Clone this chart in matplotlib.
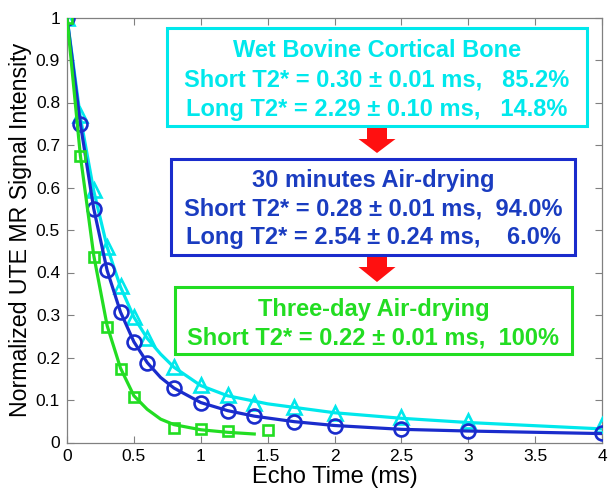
import matplotlib
matplotlib.use("Agg")
import matplotlib.pyplot as plt
from matplotlib.patches import Rectangle, Polygon

plt.rcParams['font.family'] = ['Liberation Sans', 'DejaVu Sans']

# ---- data ----
t_wet = [0, 0.1, 0.2, 0.3, 0.4, 0.5, 0.6, 0.8, 1.0, 1.2, 1.4, 1.7, 2.0, 2.5, 3.0, 4.0]
s_wet = [1.0, 0.77, 0.595, 0.46, 0.368, 0.296, 0.246, 0.178, 0.135, 0.112, 0.094, 0.083, 0.070, 0.060, 0.051, 0.041]
t_30m = [0, 0.1, 0.2, 0.3, 0.4, 0.5, 0.6, 0.8, 1.0, 1.2, 1.4, 1.7, 2.0, 2.5, 3.0, 4.0]
s_30m = [1.0, 0.75, 0.549, 0.406, 0.308, 0.237, 0.188, 0.128, 0.094, 0.075, 0.063, 0.048, 0.039, 0.031, 0.027, 0.022]
t_3d = [0, 0.1, 0.2, 0.3, 0.4, 0.5, 0.8, 1.0, 1.2, 1.5]
s_3d = [1.0, 0.674, 0.437, 0.272, 0.173, 0.107, 0.034, 0.031, 0.027, 0.029]

# fitted curves
ft_wet = [0, 0.1, 0.2, 0.3, 0.4, 0.5, 0.6, 0.7, 0.8, 1.0, 1.2, 1.5, 2.0, 2.5, 3.0, 4.0]
fs_wet = [1.0, 0.765, 0.592, 0.46, 0.366, 0.295, 0.245, 0.208, 0.177, 0.134, 0.110, 0.091, 0.070, 0.057, 0.047, 0.032]
ft_30m = [0, 0.1, 0.2, 0.3, 0.4, 0.5, 0.6, 0.7, 0.8, 1.0, 1.2, 1.4, 1.7, 2.0, 2.5, 3.0, 4.0]
fs_30m = [1.0, 0.75, 0.55, 0.405, 0.307, 0.237, 0.188, 0.153, 0.128, 0.094, 0.075, 0.062, 0.049, 0.040, 0.031, 0.027, 0.021]
ft_3d = [0, 0.1, 0.2, 0.3, 0.4, 0.5, 0.6, 0.7, 0.8, 1.0, 1.2, 1.4]
fs_3d = [1.0, 0.675, 0.44, 0.275, 0.175, 0.11, 0.078, 0.055, 0.042, 0.030, 0.024, 0.020]

xticks = [0, 0.5, 1, 1.5, 2, 2.5, 3, 3.5, 4]
xticklabels = ['0', '0.5', '1', '1.5', '2', '2.5', '3', '3.5', '4']
yticks = [0, 0.1, 0.2, 0.3, 0.4, 0.5, 0.6, 0.7, 0.8, 0.9, 1.0]
yticklabels = ['0', '0.1', '0.2', '0.3', '0.4', '0.5', '0.6', '0.7', '0.8', '0.9', '1']

box_wet = ['Wet Bovine Cortical Bone',
           'Short T2* = 0.30 \u00b1 0.01 ms,   85.2%',
           'Long T2* = 2.29 \u00b1 0.10 ms,   14.8%']
box_30m = ['30 minutes Air-drying',
           'Short T2* = 0.28 \u00b1 0.01 ms,  94.0%',
           'Long T2* = 2.54 \u00b1 0.24 ms,    6.0%']
box_3d = ['Three-day Air-drying',
          'Short T2* = 0.22 \u00b1 0.01 ms,  100%']

c_wet = '#00e8ec'
c_30m = '#1a2ccc'
c_3d = '#22dd22'
c_30m_text = '#1a3cc0'

W, H = 616, 500
fig = plt.figure(figsize=(W / 100, H / 100), dpi=100)
L, R, T, B = 67, 602, 17.5, 442.5
ax = fig.add_axes([L / W, 1 - B / H, (R - L) / W, (B - T) / H])

lw = 2.3
ax.plot(ft_wet, fs_wet, '-', color=c_wet, lw=lw, zorder=3)
ax.plot(t_wet, s_wet, '^', color=c_wet, ms=10, mfc='none', mew=1.9, zorder=3)
ax.plot(ft_30m, fs_30m, '-', color=c_30m, lw=lw, zorder=4)
ax.plot(t_30m, s_30m, 'o', color=c_30m, ms=10, mfc='none', mew=1.9, zorder=4)
ax.plot(ft_3d, fs_3d, '-', color=c_3d, lw=lw, zorder=5)
ax.plot(t_3d, s_3d, 's', color=c_3d, ms=7, mfc='none', mew=1.9, zorder=5)

ax.set_xlim(0, 4)
ax.set_ylim(0, 1)
ax.set_xticks(xticks)
ax.set_xticklabels(xticklabels)
ax.set_yticks(yticks)
ax.set_yticklabels(yticklabels)
ax.tick_params(direction='in', top=True, right=True, length=5, width=0.8,
               color='#808080', labelsize=12.5, pad=5)
for sp in ax.spines.values():
    sp.set_color('#808080')
    sp.set_linewidth(0.9)
ax.set_xlabel('Echo Time (ms)', fontsize=17, labelpad=1)
ax.set_ylabel('Normalized UTE MR Signal Intensity', fontsize=16.7, labelpad=3)


def fx(x):
    return x / W


def fy(y):
    return 1 - y / H


def add_box(x0, y0, x1, y1, color, lines, ys, textcolor, fs=17):
    fig.patches.append(Rectangle((fx(x0), fy(y1)), fx(x1) - fx(x0), fy(y0) - fy(y1),
                                 transform=fig.transFigure, fill=True, facecolor='white',
                                 edgecolor=color, lw=2.2, zorder=10))
    cx = (x0 + x1) / 2
    for s, y in zip(lines, ys):
        fig.text(fx(cx), fy(y), s, color=textcolor, fontsize=fs, fontweight='bold',
                 ha='center', va='center_baseline', zorder=11)


def add_arrow(cx, y0, y1, yh):
    pts = [(cx - 10, y0), (cx + 10, y0), (cx + 10, yh), (cx + 18.5, yh),
           (cx, y1), (cx - 18.5, yh), (cx - 10, yh)]
    fig.patches.append(Polygon([(fx(x), fy(y)) for x, y in pts], closed=True,
                               transform=fig.transFigure, facecolor='#ff1010',
                               edgecolor='none', zorder=9))


add_box(167, 28, 587, 126, c_wet, box_wet, [48, 78, 107], c_wet)
add_box(171, 159, 575, 255, c_30m, box_30m, [178, 207, 235], c_30m_text)
add_box(175, 287, 572, 354, c_3d, box_3d, [307, 335], c_3d)
add_arrow(377, 127, 153, 139)
add_arrow(377, 256, 282, 267)

fig.savefig('out.png', dpi=100)
